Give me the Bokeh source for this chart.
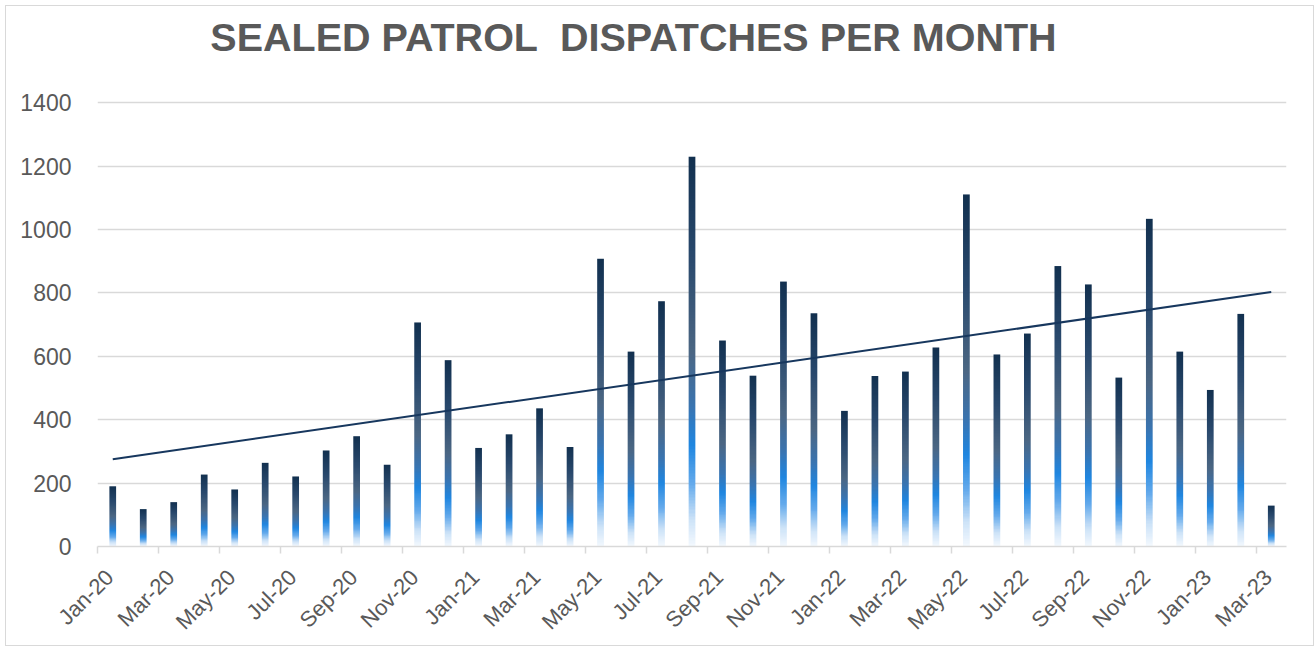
import math
import numpy as np
from bokeh.plotting import figure
from bokeh.models import FixedTicker, Label
from bokeh.embed import file_html
from bokeh.resources import INLINE

# ---- data ----
months = ["Jan-20", "Feb-20", "Mar-20", "Apr-20", "May-20", "Jun-20", "Jul-20", "Aug-20",
          "Sep-20", "Oct-20", "Nov-20", "Dec-20", "Jan-21", "Feb-21", "Mar-21", "Apr-21",
          "May-21", "Jun-21", "Jul-21", "Aug-21", "Sep-21", "Oct-21", "Nov-21", "Dec-21",
          "Jan-22", "Feb-22", "Mar-22", "Apr-22", "May-22", "Jun-22", "Jul-22", "Aug-22",
          "Sep-22", "Oct-22", "Nov-22", "Dec-22", "Jan-23", "Feb-23", "Mar-23"]
dispatches = [190, 118, 140, 227, 180, 264, 221, 303, 348, 258,
              707, 588, 311, 354, 436, 314, 908, 615, 774, 1230,
              650, 539, 836, 736, 428, 538, 552, 628, 1111, 606,
              672, 885, 827, 533, 1034, 615, 494, 734, 129]
y_ticks = [0, 200, 400, 600, 800, 1000, 1200, 1400]
title_text = "SEALED PATROL\u00a0 DISPATCHES PER MONTH"

# gradient stops (fraction of bar height from bottom -> colour)
grad_pos = [0.0, 0.07, 0.16, 0.26, 0.36, 0.50, 0.75, 1.0]
grad_col = [(244, 249, 254), (205, 227, 248), (100, 170, 236), (31, 134, 224),
            (58, 116, 176), (75, 102, 131), (40, 72, 108), (18, 48, 79)]

M = 128
fr = (np.arange(M) + 0.5) / M
grad = np.zeros((M, 2, 4), dtype=np.uint8)
for ch in range(3):
    grad[:, :, ch] = np.interp(fr, grad_pos, [c[ch] for c in grad_col]).round()[:, None]
grad[:, :, 3] = 255
grad_img = grad.view(np.uint32).reshape(M, 2)

x_idx = np.arange(len(months))
bar_w = 0.22

W, H = 1307, 639
p = figure(width=W, height=H, x_range=(-0.5, 38.5), y_range=(0, 1682),
           output_backend="svg", toolbar_location=None,
           min_border_left=91, min_border_right=29, min_border_top=7, min_border_bottom=101)
p.styles = {"border": "1px solid #d9d9d9", "box-sizing": "content-box",
            "margin": "5px 0 0 5px"}
p.outline_line_color = None
p.background_fill_color = "white"
p.border_fill_color = "white"

# grid
p.xgrid.visible = False
p.ygrid.grid_line_color = "#d9d9d9"
p.ygrid.grid_line_width = 1.5

# gradient bars (one stretched gradient image per bar)
p.image_rgba(image=[grad_img] * len(dispatches), x=list(x_idx - bar_w / 2), y=[0] * len(dispatches),
             dw=[bar_w] * len(dispatches), dh=dispatches)

# linear trend line
coef = np.polyfit(x_idx, dispatches, 1)
tx = [x_idx[0], x_idx[-1]]
p.line(tx, [coef[0] * t + coef[1] for t in tx], line_color="#17375e", line_width=2)

# y axis
p.yaxis.ticker = FixedTicker(ticks=y_ticks)
p.yaxis.axis_line_color = None
p.yaxis.major_tick_line_color = None
p.yaxis.minor_tick_line_color = None
p.yaxis.major_label_standoff = 20
p.yaxis.major_label_text_font = "Liberation Sans"
p.yaxis.major_label_text_font_size = "23px"
p.yaxis.major_label_text_color = "#595959"

# x axis (labels centred on every second month, tick marks between months)
label_pos = list(range(0, len(months), 2))
label_ticks = [i - 0.1 for i in label_pos]
p.xaxis.ticker = FixedTicker(ticks=label_ticks, minor_ticks=[i - 0.5 for i in label_pos])
p.xaxis.major_label_overrides = {t: months[i] for t, i in zip(label_ticks, label_pos)}
p.xaxis.major_tick_line_color = None
p.xaxis.minor_tick_line_color = "#d9d9d9"
p.xaxis.minor_tick_line_width = 1.5
p.xaxis.minor_tick_in = 0
p.xaxis.minor_tick_out = 7
p.xaxis.axis_line_color = "#d9d9d9"
p.xaxis.axis_line_width = 1.5
p.xaxis.major_label_orientation = math.pi / 4
p.xaxis.major_label_standoff = 20
p.xaxis.major_label_text_font = "Liberation Sans"
p.xaxis.major_label_text_font_size = "22px"
p.xaxis.major_label_text_color = "#595959"

p.add_layout(Label(x=17.08, y=1608, text=title_text, text_align="center",
                   text_baseline="alphabetic", text_font="Liberation Sans",
                   text_font_size="39.5px", text_font_style="bold", text_color="#595959"))

open("out.html", "w").write(file_html(p, INLINE))
